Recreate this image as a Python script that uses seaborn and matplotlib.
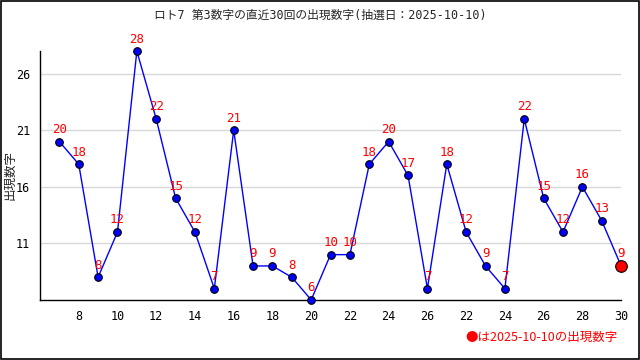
import matplotlib
matplotlib.use("Agg")
import matplotlib.pyplot as plt
import seaborn as sns
import pandas as pd
from matplotlib.ticker import MultipleLocator

# draw index 1..30, third number of each draw
draws = list(range(1, 31))
numbers = [20, 18, 8, 12, 28, 22, 15, 12, 7, 21, 9, 9, 8, 6, 10,
           10, 18, 20, 17, 7, 18, 12, 9, 7, 22, 15, 12, 16, 13, 9]
xtick_pos = list(range(2, 31, 2))
xtick_labels = ["8", "10", "12", "14", "16", "18", "20", "22", "24", "26",
                "22", "24", "26", "28", "30"]
ytick_pos = [11, 16, 21, 26]

TITLE = "ロト7 第3数字の直近30回の出現数字(抽選日：2025-10-10)"
NOTE = "●は2025-10-10の出現数字"

df = pd.DataFrame({"draw": draws, "num": numbers})

sns.set_style("white")
plt.rcParams["font.family"] = ["DejaVu Sans Mono", "Noto Sans CJK JP"]

fig = plt.figure(figsize=(6.4, 3.6), dpi=100)
ax = fig.add_axes([0.0625, 0.167, 0.908, 0.691])

ax.grid(axis="y", color="#d8d8d8", linewidth=1)
ax.set_axisbelow(True)

sns.lineplot(data=df, x="draw", y="num", color="#0000ff", linewidth=1, ax=ax, zorder=2)
sns.scatterplot(data=df.iloc[:-1], x="draw", y="num", color="#0000ff", edgecolor="black",
                linewidth=0.8, s=30, ax=ax, zorder=3, clip_on=False)
sns.scatterplot(data=df.iloc[-1:], x="draw", y="num", color="#ff0000", edgecolor="black",
                linewidth=0.8, s=70, ax=ax, zorder=4, clip_on=False)

for d, n in zip(draws, numbers):
    ax.annotate(str(n), (d, n), xytext=(0, 4), textcoords="offset points",
                ha="center", va="bottom", color="#ff0000", fontsize=9, zorder=5)

ax.set_xlim(0, 30)
ax.set_ylim(6, 28)
ax.set_xticks(xtick_pos)
ax.set_xticklabels(xtick_labels)
ax.xaxis.set_minor_locator(MultipleLocator(1))
ax.set_yticks(ytick_pos)
ax.yaxis.set_minor_locator(MultipleLocator(1))
ax.tick_params(axis="both", which="major", direction="in", length=5, width=1,
               labelsize=8.5, pad=7, colors="black")
ax.tick_params(axis="both", which="minor", direction="in", length=3, width=1)

for s in ["top", "right"]:
    ax.spines[s].set_visible(False)
for s in ["left", "bottom"]:
    ax.spines[s].set_color("black")
    ax.spines[s].set_linewidth(1)

ax.set_xlabel("")
ax.set_ylabel("")
fig.text(10 / 640, 1 - 175 / 360, "出現数字", rotation=90, ha="center", va="center", fontsize=9)
fig.text(0.5, 0.975, TITLE, ha="center", va="top", fontsize=8.5)
fig.text(0.965, 0.063, NOTE, ha="right", va="center", fontsize=9, color="#ff0000",
         family=["Noto Sans CJK JP", "DejaVu Sans Mono"])

# outer frame
fig.patches.append(plt.Rectangle((0.001, 0.002), 0.997, 0.995, transform=fig.transFigure,
                                 fill=False, edgecolor="black", linewidth=1.2))

fig.savefig("out.png", dpi=100)
